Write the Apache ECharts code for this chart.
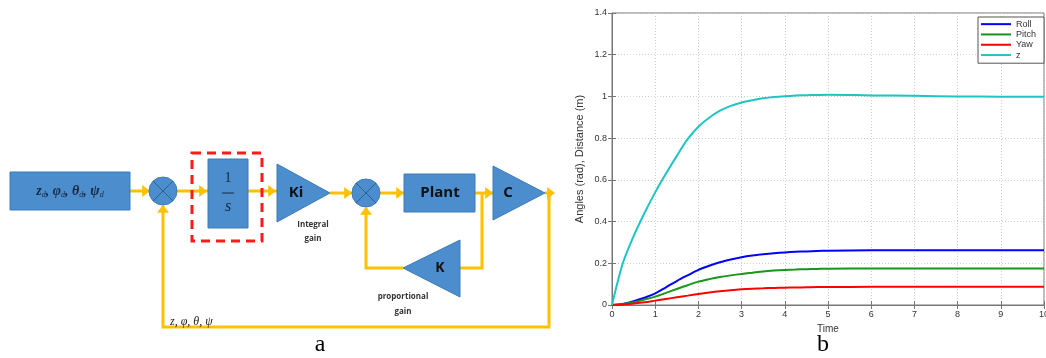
<!DOCTYPE html>
<html>
<head>
<meta charset="utf-8">
<script src="https://cdn.jsdelivr.net/npm/echarts@6/dist/echarts.min.js"></script>
<style>
  html, body { margin: 0; padding: 0; background: #fff; }
  #main { width: 1046px; height: 358px; }
</style>
</head>
<body>
<div id="main"></div>
<script>
// time samples (s)
var times = [0, 0.25, 0.5, 0.75, 1, 1.25, 1.5, 1.75, 2, 2.25, 2.5, 2.75, 3, 3.25, 3.5, 3.75, 4, 4.25, 4.5, 4.75, 5, 6, 7, 8, 9, 10]
// responses
var roll  = [0, 0.005, 0.018, 0.035, 0.056, 0.085, 0.115, 0.142, 0.168, 0.188, 0.205, 0.218, 0.229, 0.237, 0.243, 0.248, 0.252, 0.255, 0.257, 0.259, 0.26, 0.262, 0.262, 0.262, 0.262, 0.262]
var pitch = [0, 0.004, 0.013, 0.026, 0.040, 0.058, 0.077, 0.095, 0.112, 0.124, 0.134, 0.142, 0.149, 0.155, 0.161, 0.165, 0.168, 0.170, 0.172, 0.173, 0.174, 0.175, 0.175, 0.175, 0.175, 0.175]
var yaw   = [0, 0.002, 0.007, 0.013, 0.021, 0.029, 0.037, 0.045, 0.053, 0.060, 0.066, 0.071, 0.075, 0.078, 0.080, 0.082, 0.083, 0.084, 0.085, 0.086, 0.086, 0.087, 0.087, 0.087, 0.087, 0.087]
var zpos  = [0, 0.2, 0.33, 0.44, 0.54, 0.63, 0.715, 0.795, 0.855, 0.898, 0.932, 0.955, 0.971, 0.982, 0.991, 0.997, 1.001, 1.004, 1.006, 1.007, 1.008, 1.005, 1.003, 1.0, 0.999, 0.999]
var seriesNames = ['Roll', 'Pitch', 'Yaw', 'z']
var seriesColors = ['#0000ff', '#16961a', '#ff0000', '#1fc4c4']

var BLUE = '#4b8dcd'
var ORANGE = '#ffc000'

function pairs (ys) {
  return times.map(function (t, i) { return [t, ys[i]] })
}

// block diagram pieces
function wire (pts) {
  return { type: 'polyline', shape: { points: pts }, style: { stroke: ORANGE, lineWidth: 3, fill: null } }
}
function arrow (x, y, dir) {
  var s = 6, p
  if (dir === 'r') p = [[x, y], [x - s * 1.3, y - s], [x - s * 1.3, y + s]]
  else p = [[x, y], [x - s, y + s * 1.3], [x + s, y + s * 1.3]]
  return { type: 'polygon', shape: { points: p }, style: { fill: ORANGE } }
}
function block (x, y, w, h) {
  return { type: 'rect', shape: { x: x, y: y, width: w, height: h }, style: { fill: BLUE, stroke: '#3f7bb8', lineWidth: 1 } }
}
function tri (pts) {
  return { type: 'polygon', shape: { points: pts }, style: { fill: BLUE, stroke: '#3f7bb8', lineWidth: 1 } }
}
function summer (cx, cy) {
  var d = 10
  return [
    { type: 'circle', shape: { cx: cx, cy: cy, r: 14 }, style: { fill: BLUE, stroke: '#3f7bb8' } },
    { type: 'line', shape: { x1: cx - d, y1: cy - d, x2: cx + d, y2: cy + d }, style: { stroke: '#2f5f90', lineWidth: 1 } },
    { type: 'line', shape: { x1: cx - d, y1: cy + d, x2: cx + d, y2: cy - d }, style: { stroke: '#2f5f90', lineWidth: 1 } }
  ]
}
function label (x, y, txt, font, size, weight, style, color) {
  return {
    type: 'text', x: x, y: y,
    style: {
      text: txt, fontFamily: font, fontSize: size, fontWeight: weight || 'normal',
      fontStyle: style || 'normal', fill: color || '#111', align: 'center', verticalAlign: 'middle'
    }
  }
}

var diagram = [].concat(
  wire([[130, 191], [150, 191]]),
  wire([[177, 191], [208, 191]]),
  wire([[248, 191], [277, 191]]),
  wire([[330, 193], [352, 193]]),
  wire([[380, 193], [404, 193]]),
  wire([[475, 193], [493, 193]]),
  wire([[545, 193], [549, 193], [549, 327], [163, 327], [163, 206]]),
  wire([[482, 193], [482, 268], [460, 268]]),
  wire([[403, 268], [366, 268], [366, 208]]),
  arrow(150, 191, 'r'), arrow(207, 191, 'r'), arrow(276, 191, 'r'),
  arrow(352, 193, 'r'), arrow(404, 193, 'r'), arrow(493, 193, 'r'), arrow(555, 193, 'r'),
  arrow(163, 205, 'u'), arrow(366, 207, 'u'),
  block(10, 172, 120, 38),
  {
    type: 'text', x: 70, y: 191,
    style: {
      text: '{m|z}{s|d}{m|, φ}{s|d}{m|, θ}{s|d}{m|, ψ}{s|d}',
      align: 'center', verticalAlign: 'middle',
      rich: {
        m: { fontFamily: 'Liberation Serif', fontStyle: 'italic', fontWeight: 'bold', fontSize: 14, fill: '#1a2a44' },
        s: { fontFamily: 'Liberation Serif', fontStyle: 'italic', fontSize: 8, fill: '#1a2a44', padding: [8, 0, 0, 0] }
      }
    }
  },
  summer(163, 191),
  block(208, 159, 40, 69),
  label(228, 178, '1', 'Liberation Serif', 15, 'normal', 'normal', '#1a2a44'),
  { type: 'line', shape: { x1: 222, y1: 193, x2: 234, y2: 193 }, style: { stroke: '#1a2a44', lineWidth: 1 } },
  label(228, 207, 's', 'Liberation Serif', 16, 'normal', 'italic', '#1a2a44'),
  { type: 'rect', shape: { x: 192, y: 153, width: 70, height: 88 }, style: { fill: null, stroke: '#ff1a1a', lineWidth: 3, lineDash: [9, 6] } },
  tri([[277, 164], [330, 193], [277, 222]]),
  label(296, 193, 'Ki', 'Open Sans', 15, 'bold'),
  label(313, 225, 'Integral', 'Open Sans', 8, 'bold', 'normal', '#333'),
  label(313, 239, 'gain', 'Open Sans', 8, 'bold', 'normal', '#333'),
  summer(366, 193),
  block(404, 174, 71, 38),
  label(440, 193, 'Plant', 'Open Sans', 15, 'bold'),
  tri([[493, 166], [545, 193], [493, 220]]),
  label(508, 193, 'C', 'Open Sans', 15, 'bold'),
  tri([[460, 240], [403, 268], [460, 297]]),
  label(440, 268, 'K', 'Open Sans', 14, 'bold'),
  label(403, 297, 'proportional', 'Open Sans', 8, 'bold', 'normal', '#333'),
  label(403, 312, 'gain', 'Open Sans', 8, 'bold', 'normal', '#333'),
  {
    type: 'text', x: 170, y: 322,
    style: { text: 'z, φ, θ, ψ', fontFamily: 'Liberation Serif', fontStyle: 'italic', fontSize: 12, fill: '#222', align: 'left', verticalAlign: 'middle' }
  },
  label(320, 345, 'a', 'Liberation Serif', 24, 'normal', 'normal', '#000'),
  label(823, 345, 'b', 'Liberation Serif', 24, 'normal', 'normal', '#000')
)

var tickStyle = { show: true, inside: true, length: 4, lineStyle: { color: '#777' } }
var gridLine = { show: true, lineStyle: { color: '#cfcfcf', type: [1, 2] } }
var labelFont = { fontSize: 9, color: '#333', fontFamily: 'Liberation Sans' }

var chart = echarts.init(document.getElementById('main'))
var option = {
  animation: false,
  backgroundColor: '#fff',
  grid: {
    left: 612, right: 2, top: 13, bottom: 53, outerBoundsMode: 'none',
    show: true, borderColor: '#777', borderWidth: 1
  },
  legend: {
    data: seriesNames,
    orient: 'vertical',
    left: 978, top: 17,
    width: 62,
    padding: [2, 4, 3, 3],
    itemGap: 0,
    icon: 'rect',
    itemWidth: 30, itemHeight: 2,
    backgroundColor: '#fff', borderColor: '#555', borderWidth: 1,
    textStyle: { fontSize: 9, lineHeight: 10.3, color: '#333', fontFamily: 'Liberation Sans', width: 24 }
  },
  xAxis: [{
    type: 'value', min: 0, max: 10, interval: 1,
    name: 'Time', nameLocation: 'middle', nameGap: 18,
    nameTextStyle: { fontSize: 10, color: '#333', fontFamily: 'Liberation Sans' },
    axisLine: { show: true, lineStyle: { color: '#777' } },
    axisTick: tickStyle,
    axisLabel: Object.assign({ margin: 5 }, labelFont),
    splitLine: gridLine
  }, {
    type: 'value', min: 0, max: 10, interval: 1, position: 'top',
    axisLine: { show: false }, axisTick: tickStyle, axisLabel: { show: false }, splitLine: { show: false }
  }],
  yAxis: [{
    type: 'value', min: 0, max: 1.4, interval: 0.2,
    name: 'Angles (rad), Distance (m)', nameLocation: 'middle', nameGap: 27,
    nameTextStyle: { fontSize: 11, color: '#333', fontFamily: 'Liberation Sans' },
    axisLine: { show: true, lineStyle: { color: '#777' } },
    axisTick: tickStyle,
    axisLabel: Object.assign({
      margin: 5,
      formatter: function (v) { return String(Math.round(v * 10) / 10) }
    }, labelFont),
    splitLine: gridLine
  }, {
    type: 'value', min: 0, max: 1.4, interval: 0.2, position: 'right',
    axisLine: { show: false }, axisTick: tickStyle, axisLabel: { show: false }, splitLine: { show: false }
  }],
  series: [roll, pitch, yaw, zpos].map(function (d, i) {
    return {
      name: seriesNames[i], type: 'line', data: pairs(d),
      smooth: 0.3, showSymbol: false, symbol: 'none',
      lineStyle: { color: seriesColors[i], width: 2 },
      itemStyle: { color: seriesColors[i] }
    }
  }),
  graphic: diagram
}
chart.setOption(option)
</script>
</body>
</html>
